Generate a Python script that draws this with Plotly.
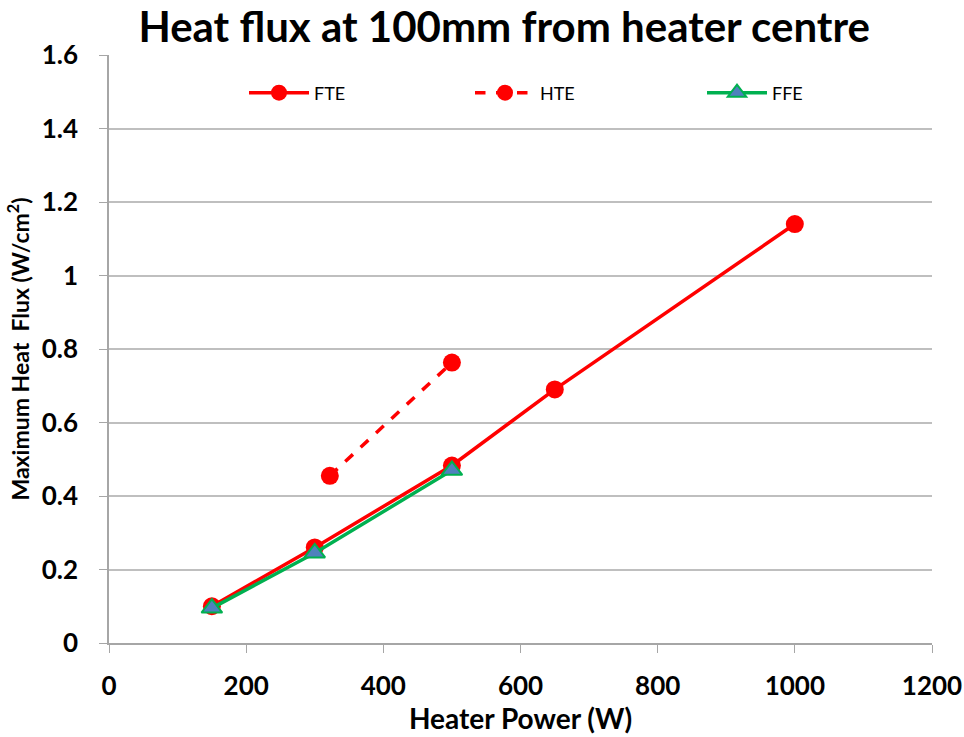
import plotly.graph_objects as go

fte_x = [150, 300, 500, 650, 1000]
fte_y = [0.10, 0.26, 0.483, 0.69, 1.14]
hte_x = [322, 500]
hte_y = [0.455, 0.763]
ffe_x = [150, 300, 500]
ffe_y = [0.095, 0.245, 0.47]

FONT = "Lato"
L, R, T, B = 109, 32, 55, 94
W, H = 964, 737
PW = W - L - R
PH = H - T - B

fig = go.Figure()
fig.add_trace(go.Scatter(x=fte_x, y=fte_y, name="FTE", mode="lines+markers", legend="legend",
                         line=dict(color="#ff0000", width=3.5),
                         marker=dict(symbol="circle", size=18, color="#ff0000")))
fig.add_trace(go.Scatter(x=hte_x, y=hte_y, name="HTE", mode="lines+markers", legend="legend2",
                         line=dict(color="#ff0000", width=3.5, dash="dash"),
                         marker=dict(symbol="circle", size=18, color="#ff0000")))
fig.add_trace(go.Scatter(x=ffe_x, y=ffe_y, name="FFE", mode="lines+markers", legend="legend3",
                         line=dict(color="#00b050", width=3.5),
                         marker=dict(symbol="triangle-up", size=18, color="#4f81bd",
                                     line=dict(color="#00b050", width=2))))

def px2x(px):
    return (px - L) / PW

def py2y(py):
    return (H - B - py) / PH

leg_common = dict(orientation="h", yanchor="middle", xanchor="left",
                  font=dict(size=18, family=FONT), bgcolor="rgba(0,0,0,0)",
                  itemwidth=60, y=py2y(93))

fig.update_layout(
    width=W, height=H,
    paper_bgcolor="white", plot_bgcolor="white",
    margin=dict(l=L, r=R, t=T, b=B),
    font=dict(family=FONT, color="black"),
    title=dict(text="<b>Heat flux at 100mm from heater centre</b>",
               x=0.523, xanchor="center", y=1 - 27 / H, yanchor="middle",
               font=dict(size=42, family=FONT)),
    showlegend=True,
    legend=dict(leg_common, x=px2x(244)),
    legend2=dict(leg_common, x=px2x(470)),
    legend3=dict(leg_common, x=px2x(702)),
    xaxis=dict(range=[0, 1200], dtick=200, showgrid=False, automargin=False,
               showline=True, linecolor="#a6a6a6", linewidth=1.5,
               ticks="outside", tickcolor="#a6a6a6", ticklen=8,
               tickfont=dict(size=26, family=FONT), ticklabelstandoff=11,
               title=dict(text="<b>Heater Power (W)</b>", font=dict(size=28, family=FONT), standoff=8),
               tickprefix="<b>", ticksuffix="</b>", zeroline=False),
    yaxis=dict(range=[0, 1.6], dtick=0.2, showgrid=True, gridcolor="#bfbfbf", gridwidth=1.5,
               automargin=False,
               showline=True, linecolor="#a6a6a6", linewidth=1.5,
               ticks="outside", tickcolor="#a6a6a6", ticklen=8,
               tickfont=dict(size=26, family=FONT), ticklabelstandoff=16,
               tickprefix="<b>", ticksuffix="</b>", zeroline=False,
               title=dict(text="<b>Maximum Heat  Flux (W/cm<sup>2</sup>)</b>",
                          font=dict(size=23, family=FONT), standoff=6)),
)
fig.write_html("out.html", config={"displayModeBar": False},
               post_script="document.body.style.margin='0';")
